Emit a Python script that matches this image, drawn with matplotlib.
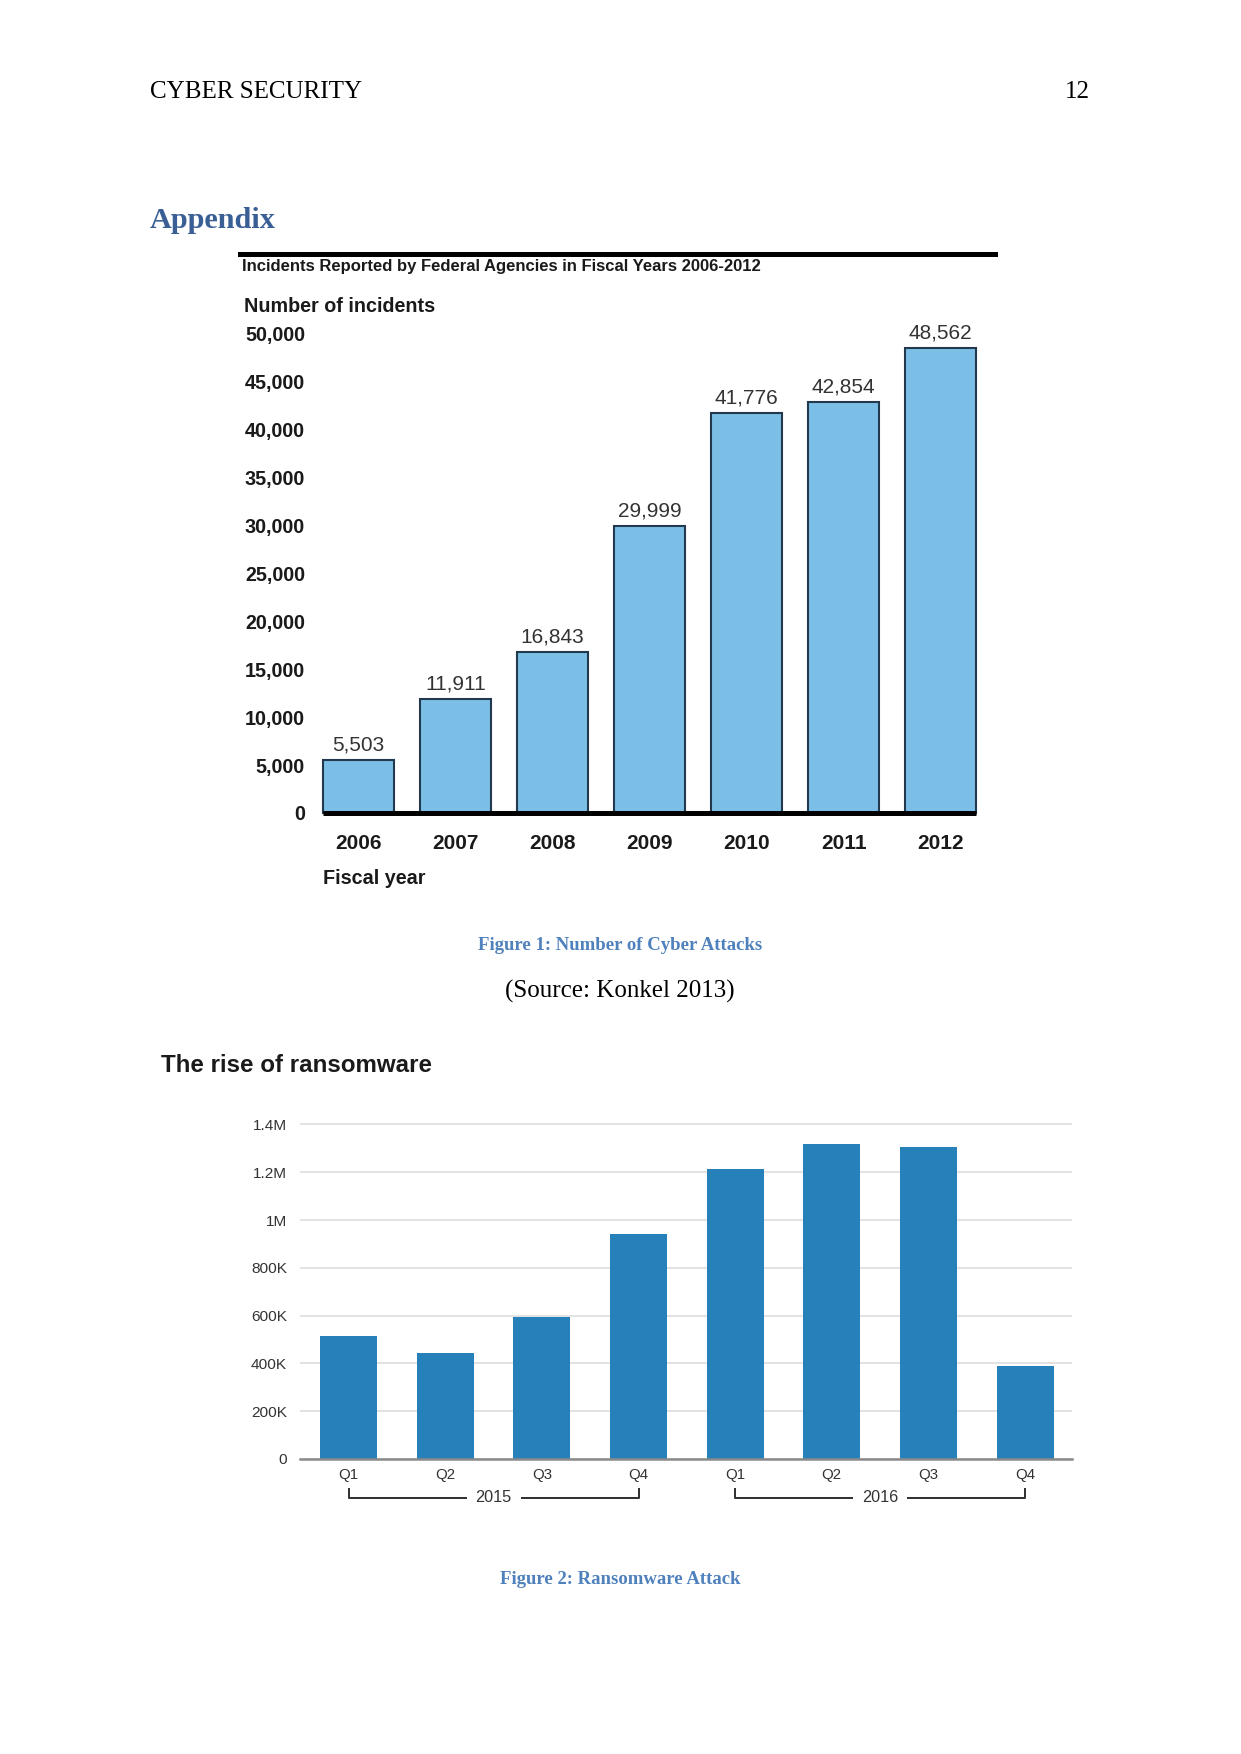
import matplotlib
matplotlib.use("Agg")
import matplotlib.pyplot as plt
from matplotlib.lines import Line2D
from matplotlib.transforms import blended_transform_factory
import numpy as np

# ---------------- data ----------------
fiscal_years = ["2006", "2007", "2008", "2009", "2010", "2011", "2012"]
incidents = [5503, 11911, 16843, 29999, 41776, 42854, 48562]
incident_labels = ["5,503", "11,911", "16,843", "29,999", "41,776", "42,854", "48,562"]
incident_ticks = [0, 5000, 10000, 15000, 20000, 25000, 30000, 35000, 40000, 45000, 50000]
incident_tick_labels = ["0", "5,000", "10,000", "15,000", "20,000", "25,000",
                        "30,000", "35,000", "40,000", "45,000", "50,000"]

quarters = ["Q1", "Q2", "Q3", "Q4", "Q1", "Q2", "Q3", "Q4"]
ransom_years = ["2015", "2016"]
ransomware = [514000, 444000, 596000, 941000, 1212000, 1320000, 1305000, 390000]
ransom_ticks = [0, 200000, 400000, 600000, 800000, 1000000, 1200000, 1400000]
ransom_tick_labels = ["0", "200K", "400K", "600K", "800K", "1M", "1.2M", "1.4M"]

# ---------------- page ----------------
W, H = 1241, 1754
DPI = 150
fig = plt.figure(figsize=(W / DPI, H / DPI), dpi=DPI)
fig.patch.set_facecolor("white")

def fx(px):
    return px / W

def fy(py):
    return 1 - py / H

def px2pt(p):
    return p * 72.0 / DPI

serif = ["Liberation Serif", "DejaVu Serif"]
sans = ["Liberation Sans", "DejaVu Sans"]

fig.text(fx(150), fy(92), "CYBER SECURITY", family=serif, fontsize=12,
         ha="left", va="center", color="black")
fig.text(fx(1090), fy(92), "12", family=serif, fontsize=12,
         ha="right", va="center", color="black")
fig.text(fx(150), fy(220), "Appendix", family=serif, fontsize=14.5,
         fontweight="bold", ha="left", va="center", color="#3a5f95")

# ---------------- chart 1 ----------------
c1_left, c1_right = 305, 990
c1_top, c1_bottom = 300, 820
base_px = 813
px_per_unit = 479.0 / 50000
bar_c0, bar_sp = 358.6, 97.0
ax1 = fig.add_axes([fx(c1_left), fy(c1_bottom), (c1_right - c1_left) / W,
                    (c1_bottom - c1_top) / H])
ax1.set_facecolor("white")
x1 = np.arange(len(fiscal_years))
w1 = 0.73
ax1.bar(x1, incidents, width=w1, color="#7bbfe6", edgecolor="#22384d",
        linewidth=1.0, zorder=2)
ax1.hlines(0, x1[0] - w1 / 2, x1[-1] + w1 / 2, color="black",
           linewidth=px2pt(5), zorder=3)
ax1.set_xlim((c1_left - bar_c0) / bar_sp, (c1_right - bar_c0) / bar_sp)
ax1.set_ylim(-(c1_bottom - base_px) / px_per_unit, (base_px - c1_top) / px_per_unit)
for s in ax1.spines.values():
    s.set_visible(False)
ax1.set_yticks(incident_ticks)
ax1.set_yticklabels(incident_tick_labels, family=sans, fontsize=9.5,
                    fontweight="bold", color="#1a1a1a")
ax1.tick_params(axis="y", length=0, pad=0)
ax1.set_xticks(x1)
ax1.set_xticklabels(fiscal_years, family=sans, fontsize=10, fontweight="bold",
                    color="#1a1a1a")
ax1.tick_params(axis="x", length=0, pad=px2pt(14))
for xi, v, lab in zip(x1, incidents, incident_labels):
    ax1.annotate(lab, (xi, v), xytext=(0, px2pt(15)), textcoords="offset points",
                 ha="center", va="center", family=sans, fontsize=10,
                 color="#333333")

fig.add_artist(Line2D([fx(240), fx(995)], [fy(254), fy(254)], color="black",
                      linewidth=px2pt(5), transform=fig.transFigure))
fig.text(fx(242), fy(267), "Incidents Reported by Federal Agencies in Fiscal Years 2006-2012",
         family=sans, fontsize=8, fontweight="bold", ha="left", va="center",
         color="#1a1a1a")
fig.text(fx(244), fy(306), "Number of incidents", family=sans, fontsize=9.5,
         fontweight="bold", ha="left", va="center", color="#1a1a1a")
fig.text(fx(323), fy(878), "Fiscal year", family=sans, fontsize=9.5,
         fontweight="bold", ha="left", va="center", color="#1a1a1a")

fig.text(fx(620), fy(945), "Figure 1: Number of Cyber Attacks", family=serif,
         fontsize=9, fontweight="bold", ha="center", va="center", color="#4f81bd")
fig.text(fx(620), fy(991), "(Source: Konkel 2013)", family=serif, fontsize=12,
         ha="center", va="center", color="black")

# ---------------- chart 2 ----------------
fig.text(fx(161), fy(1066), "The rise of ransomware", family=sans, fontsize=11.6,
         fontweight="bold", ha="left", va="center", color="#1a1a1a")

c2_left, c2_right = 300, 1072
c2_top, c2_bottom = 1115, 1459
px_per_200k = 47.8
q_c0, q_sp = 348.6, 96.64
ax2 = fig.add_axes([fx(c2_left), fy(c2_bottom), (c2_right - c2_left) / W,
                    (c2_bottom - c2_top) / H])
x2 = np.arange(len(quarters))
ax2.bar(x2, ransomware, width=0.59, color="#2680b9", zorder=2)
ax2.set_xlim((c2_left - q_c0) / q_sp, (c2_right - q_c0) / q_sp)
ax2.set_ylim(0, (c2_bottom - c2_top) / px_per_200k * 200000)
for name, s in ax2.spines.items():
    s.set_visible(name == "bottom")
ax2.spines["bottom"].set_color("#8a8a8a")
ax2.spines["bottom"].set_linewidth(px2pt(2.5))
ax2.spines["bottom"].set_zorder(3)
ax2.set_yticks(ransom_ticks)
ax2.set_yticklabels(ransom_tick_labels, family=sans, fontsize=7.4, color="#333333")
ax2.tick_params(axis="y", length=0, pad=px2pt(13))
ax2.yaxis.grid(True, color="#e2e2e2", linewidth=px2pt(2))
ax2.set_axisbelow(True)
ax2.set_xticks(x2)
ax2.set_xticklabels(quarters, family=sans, fontsize=7.2, color="#333333")
ax2.tick_params(axis="x", length=0, pad=px2pt(9))

trans = blended_transform_factory(ax2.transData, ax2.transAxes)
h_ax = c2_bottom - c2_top
y_tick_top = -(1488 - c2_bottom) / h_ax
y_line = -(1498 - c2_bottom) / h_ax
gap = 0.28
for i, yr in enumerate(ransom_years):
    a, b = 4 * i, 4 * i + 3
    mid = (a + b) / 2
    ax2.plot([a, a, mid - gap], [y_tick_top, y_line, y_line], color="#333333",
             linewidth=px2pt(2), transform=trans, clip_on=False,
             solid_capstyle="butt")
    ax2.plot([mid + gap, b, b], [y_line, y_line, y_tick_top], color="#333333",
             linewidth=px2pt(2), transform=trans, clip_on=False,
             solid_capstyle="butt")
    ax2.text(mid, y_line, yr, transform=trans, ha="center", va="center",
             family=sans, fontsize=7.8, color="#333333")

fig.text(fx(620), fy(1580), "Figure 2: Ransomware Attack", family=serif,
         fontsize=9, fontweight="bold", ha="center", va="center", color="#4f81bd")

fig.savefig("out.png", dpi=DPI, facecolor="white")
